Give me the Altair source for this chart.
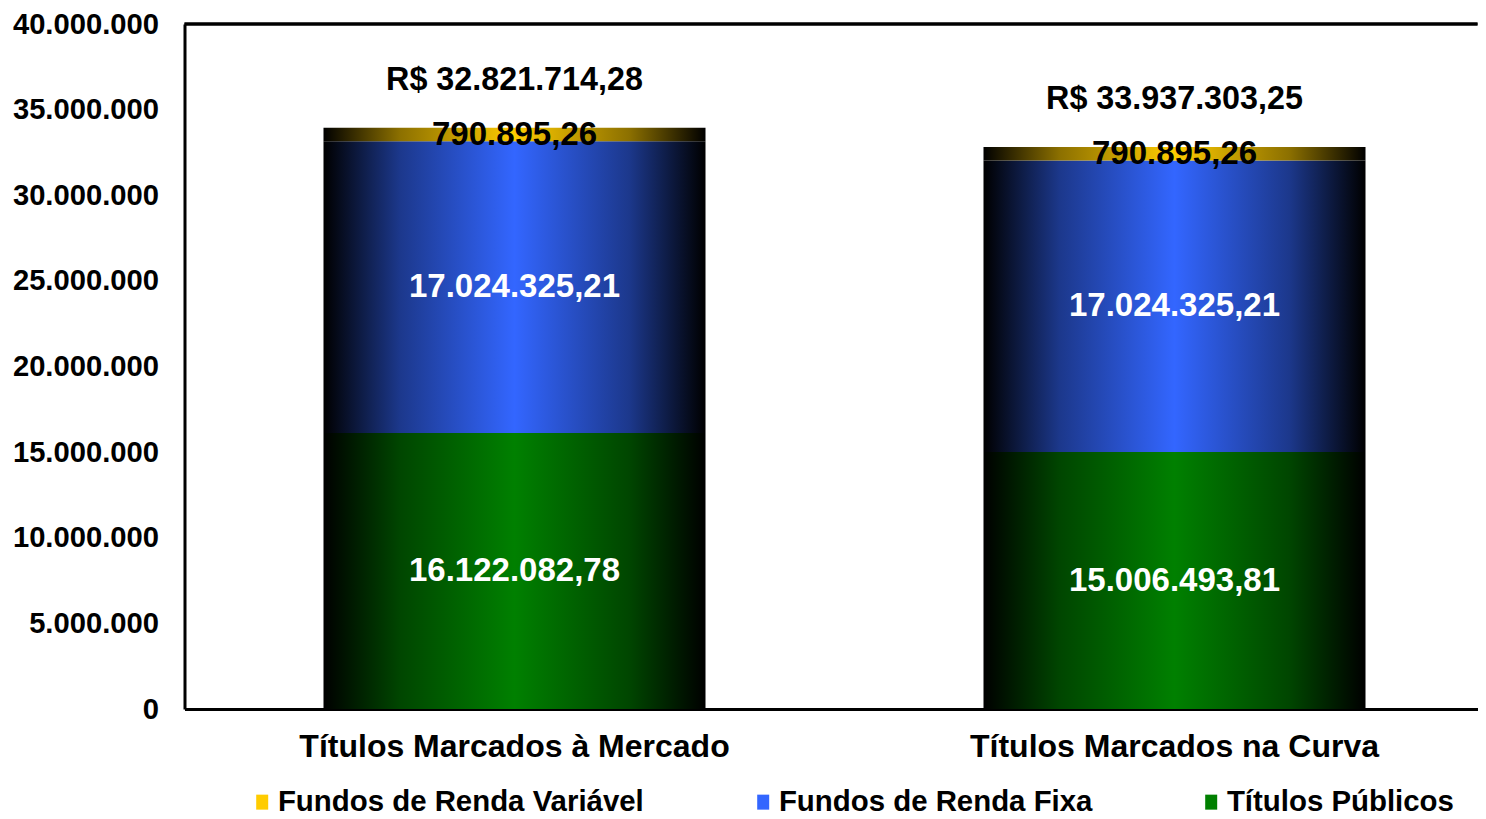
import altair as alt
import pandas as pd

# ---------------- data ----------------
categories = ["Títulos Marcados à Mercado", "Títulos Marcados na Curva"]
titulos_publicos = [16122082.78, 15006493.81]
renda_fixa = [17024325.21, 17024325.21]
renda_variavel = [790895.26, 790895.26]
total_labels = ["R$ 32.821.714,28", "R$ 33.937.303,25"]
stack_order = ["Títulos Públicos", "Fundos de Renda Fixa", "Fundos de Renda Variável"]
legend_order = ["Fundos de Renda Variável", "Fundos de Renda Fixa", "Títulos Públicos"]
y_ticks = [0, 5000000, 10000000, 15000000, 20000000, 25000000, 30000000, 35000000, 40000000]
y_max = 40000000

FONT = "Liberation Sans"
COLORS = {"Títulos Públicos": "#008000", "Fundos de Renda Fixa": "#3366FF", "Fundos de Renda Variável": "#FFCC00"}
MID = {"Títulos Públicos": "#004600", "Fundos de Renda Fixa": "#1c388c", "Fundos de Renda Variável": "#8c7000"}


def br(v):
    s = f"{v:,.2f}"
    return s.replace(",", "X").replace(".", ",").replace("X", ".")


series_values = {
    "Títulos Públicos": titulos_publicos,
    "Fundos de Renda Fixa": renda_fixa,
    "Fundos de Renda Variável": renda_variavel,
}

rows = []
for i, cat in enumerate(categories):
    base = 0.0
    for s in stack_order:
        v = series_values[s][i]
        rows.append({"category": cat, "series": s, "value": v, "start": base,
                     "end": base + v, "mid": base + v / 2, "label": br(v)})
        base += v
df = pd.DataFrame(rows)

tot = pd.DataFrame({
    "category": categories,
    "total": [titulos_publicos[i] + renda_fixa[i] + renda_variavel[i] for i in range(len(categories))],
    "label": total_labels,
})

# ---------------- encodings ----------------
x_enc = alt.X(
    "category:N", sort=categories, title=None,
    scale=alt.Scale(range=[0, 1320], paddingInner=0.4212, paddingOuter=0.2106),
    axis=alt.Axis(labelFont=FONT, labelFontSize=32, labelFontWeight="bold", labelColor="black",
                  labelAngle=0, labelPadding=22, ticks=False, tickSize=0, labelLimit=800,
                  domainColor="black", domainWidth=3),
)
y_scale = alt.Scale(domain=[0, y_max], nice=False, zero=True)
y_axis = alt.Axis(values=y_ticks, labelExpr="replace(format(datum.value, ','), regexp(',', 'g'), '.')",
                  labelFont=FONT, labelFontSize=29.2, labelFontWeight="bold", labelColor="black",
                  ticks=False, tickSize=0, labelPadding=26, grid=False,
                  domainColor="black", domainWidth=3)


def grad(series_name):
    c = COLORS[series_name]
    m = MID[series_name]
    return alt.Gradient(
        gradient="linear", x1=0, x2=1, y1=0, y2=0,
        stops=[
            alt.GradientStop(offset=0, color="#000000"),
            alt.GradientStop(offset=0.2, color=m),
            alt.GradientStop(offset=0.5, color=c),
            alt.GradientStop(offset=0.8, color=m),
            alt.GradientStop(offset=1, color="#000000"),
        ],
    )


layers = []
for s in stack_order:
    layers.append(
        alt.Chart(df).transform_filter(alt.datum.series == s)
        .mark_bar(color=grad(s), strokeWidth=0)
        .encode(x=x_enc, y=alt.Y("start:Q", scale=y_scale, axis=y_axis, title=None), y2="end:Q")
    )

# invisible layer to produce the legend
legend_layer = alt.Chart(df).mark_square(opacity=0).encode(
    x=x_enc,
    y=alt.Y("end:Q", scale=y_scale, axis=y_axis, title=None),
    color=alt.Color(
        "series:N",
        scale=alt.Scale(domain=legend_order, range=[COLORS[s] for s in legend_order]),
        legend=alt.Legend(
            orient="none", legendX=63, legendY=763, direction="horizontal", title=None,
            labelFont=FONT, labelFontSize=29.4, labelFontWeight="bold", labelColor="black",
            symbolType="M-0.8,-1H0.8V1H-0.8Z", symbolSize=225, symbolOpacity=1,
            symbolStrokeWidth=0, labelOffset=1, columnPadding=104, labelLimit=800,
        ),
    ),
)

top_rule = alt.Chart(tot).mark_rule(color="black", strokeWidth=3).encode(y=alt.datum(y_max))

white_text = alt.Chart(df).transform_filter(alt.datum.series != "Fundos de Renda Variável").mark_text(
    font=FONT, fontSize=33, fontWeight="bold", color="white", baseline="middle", align="center"
).encode(x=x_enc, y=alt.Y("mid:Q", scale=y_scale, axis=y_axis, title=None), text="label:N")

black_text = alt.Chart(df).transform_filter(alt.datum.series == "Fundos de Renda Variável").mark_text(
    font=FONT, fontSize=33, fontWeight="bold", color="black", baseline="middle", align="center"
).encode(x=x_enc, y=alt.Y("mid:Q", scale=y_scale, axis=y_axis, title=None), text="label:N")

total_text = alt.Chart(tot).mark_text(
    font=FONT, fontSize=32.3, fontWeight="bold", color="black", baseline="middle", align="center", dy=-48
).encode(x=x_enc, y=alt.Y("total:Q", scale=y_scale, axis=y_axis, title=None), text="label:N")

chart = alt.layer(*layers, legend_layer, top_rule, white_text, black_text, total_text).properties(
    width=1293, height=685,
    autosize=alt.AutoSizeParams(type="none"),
    padding={"left": 176.5, "top": 16, "right": 0, "bottom": 110},
    background="white",
).configure_view(stroke=None)

chart.save("out.html", embed_options={"renderer": "svg", "actions": False})
